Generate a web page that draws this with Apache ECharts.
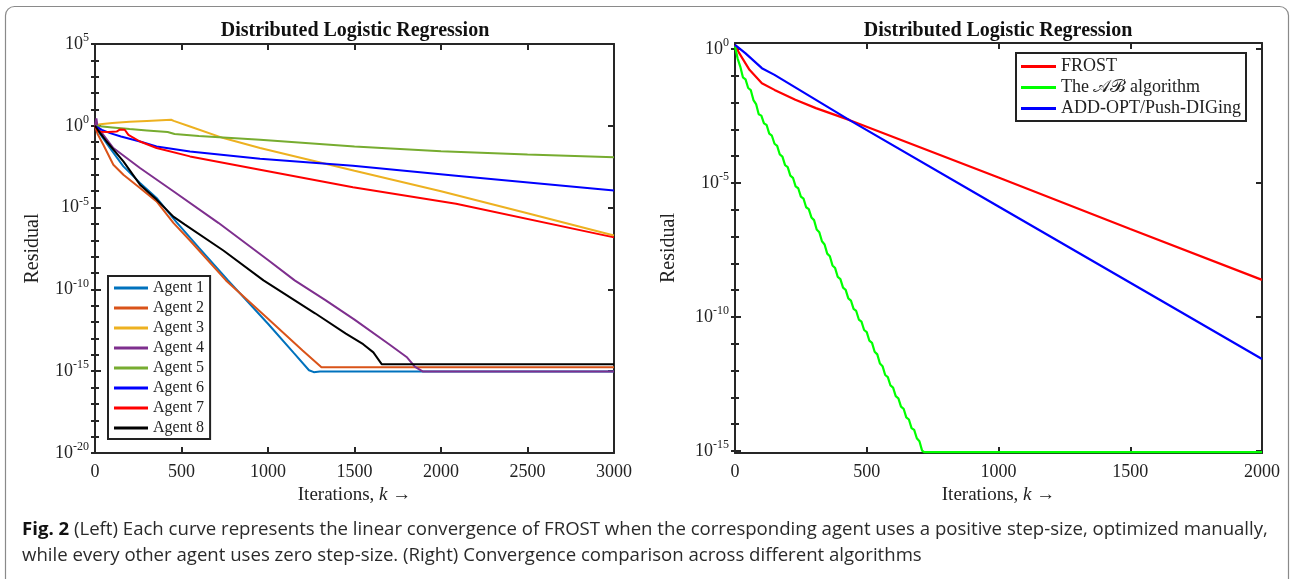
<!DOCTYPE html>
<html>
<head>
<meta charset="utf-8">
<script src="https://cdn.jsdelivr.net/npm/echarts@6/dist/echarts.min.js"></script>
<style>
  html, body { margin: 0; padding: 0; background: #fff; }
  #main { width: 1291px; height: 579px; }
</style>
</head>
<body>
<div id="main"></div>
<script>
// values are [iteration, log10(residual)]
var agent1 = [[0,0],[10,-0.2],[29,-0.5],[87,-1.36],[164,-2.48],[260,-3.49],[356,-4.41],[472,-5.9],[600,-7.45],[769,-9.45],[1000,-12.1],[1150,-13.9],[1237,-14.94],[1265,-15.06],[1300,-15.02],[3000,-15.02]];
var agent2 = [[0,0],[15,-0.5],[48,-1.16],[106,-2.38],[164,-2.99],[260,-3.8],[356,-4.62],[453,-5.93],[549,-7.01],[757,-9.45],[1000,-11.8],[1200,-13.73],[1309,-14.76],[3000,-14.76]];
var agent3 = [[0,0],[30,0.1],[100,0.17],[200,0.25],[300,0.3],[440,0.37],[455,0.3],[549,-0.04],[742,-0.75],[954,-1.36],[1500,-2.75],[2000,-4.0],[2500,-5.35],[3000,-6.7]];
var agent4 = [[0,0],[8,0.45],[14,0],[30,-0.3],[48,-0.55],[106,-1.36],[260,-2.58],[453,-4.0],[713,-5.93],[1000,-8.2],[1154,-9.45],[1334,-10.67],[1500,-11.85],[1700,-13.35],[1801,-14.13],[1850,-14.74],[1896,-15.02],[3000,-15.02]];
var agent5 = [[0,0],[100,-0.1],[200,-0.2],[300,-0.28],[420,-0.38],[460,-0.5],[600,-0.62],[954,-0.85],[1500,-1.26],[2000,-1.55],[2500,-1.76],[3000,-1.92]];
var agent6 = [[0,0],[40,-0.25],[87,-0.45],[150,-0.65],[260,-0.96],[356,-1.26],[549,-1.57],[954,-2.01],[1491,-2.44],[2087,-3.05],[3000,-3.96]];
var agent7 = [[0,0],[15,-0.3],[30,-0.36],[80,-0.38],[125,-0.35],[145,-0.22],[172,-0.24],[193,-0.55],[260,-0.96],[356,-1.36],[549,-1.87],[954,-2.68],[1491,-3.76],[2087,-4.76],[3000,-6.82]];
var agent8 = [[0,0],[10,-0.15],[30,-0.45],[67,-0.96],[164,-2.17],[260,-3.6],[356,-4.51],[453,-5.55],[520,-6.04],[742,-7.62],[974,-9.45],[1272,-11.46],[1450,-12.7],[1550,-13.35],[1609,-13.85],[1657,-14.57],[3000,-14.57]];

var frost = [[0,0.15],[16,-0.16],[55,-0.78],[102,-1.28],[150,-1.53],[229,-1.9],[307,-2.21],[433,-2.65],[1000,-4.8],[1500,-6.72],[2000,-8.62]];
var abAlg = [[0,0.10],[10,-0.36],[20,-0.66],[30,-1.06],[40,-1.14],[50,-1.46],[60,-1.54],[70,-1.91],[80,-2.06],[90,-2.44],[100,-2.49],
  [110,-2.78],[120,-2.84],[130,-3.16],[140,-3.24],[150,-3.54],[160,-3.62],[170,-3.94],[180,-4.02],[190,-4.34],[200,-4.41],
  [210,-4.73],[220,-4.81],[230,-5.13],[240,-5.20],[250,-5.51],[260,-5.59],[270,-5.91],[280,-5.98],[290,-6.29],[300,-6.39],
  [310,-6.74],[320,-6.84],[330,-7.18],[340,-7.30],[350,-7.64],[360,-7.74],[370,-8.08],[380,-8.18],[390,-8.51],[400,-8.59],
  [410,-8.91],[420,-8.99],[430,-9.31],[440,-9.39],[450,-9.70],[460,-9.78],[470,-10.10],[480,-10.18],[490,-10.49],[500,-10.57],
  [510,-10.89],[520,-10.97],[530,-11.30],[540,-11.40],[550,-11.74],[560,-11.84],[570,-12.17],[580,-12.25],[590,-12.56],[600,-12.64],
  [610,-12.96],[620,-13.04],[630,-13.35],[640,-13.43],[650,-13.75],[660,-13.83],[670,-14.15],[680,-14.22],[690,-14.53],[700,-14.64],
  [710,-14.99],[718,-15.05],[2000,-15.05]];
var addOpt = [[0,0.15],[39,-0.16],[102,-0.72],[150,-0.97],[433,-2.65],[1000,-5.88],[1615,-9.38],[2000,-11.57]];

var agentNames = ['Agent 1','Agent 2','Agent 3','Agent 4','Agent 5','Agent 6','Agent 7','Agent 8'];
var agentData = [agent1, agent2, agent3, agent4, agent5, agent6, agent7, agent8];
var agentColors = ['#0072BD','#D95319','#EDB120','#7E2F8E','#77AC30','#0000FF','#FF0000','#000000'];
var algNames = ['FROST','The \uD835\uDC9C\u212C algorithm','ADD-OPT/Push-DIGing'];
var algData = [frost, abAlg, addOpt];
var algColors = ['#FF0000','#00FF00','#0000FF'];

var leftMajor = [5, 0, -5, -10, -15, -20];
var rightMajor = [0, -5, -10, -15];
var leftMinor = [];
for (var i = 5; i >= -20; i--) leftMinor.push(i);
var rightMinor = [];
for (var j = 0; j >= -15; j--) rightMinor.push(j);

var serif = 'Liberation Serif, DejaVu Serif, serif';
var axisColor = '#262626';

var chart = echarts.init(document.getElementById('main'));

function xAxes(grid, max) {
    var common = {
        type: 'value', gridIndex: grid, min: 0, max: max, interval: 500,
        splitLine: { show: false },
        axisLine: { show: true, onZero: false, lineStyle: { color: axisColor, width: 2 } },
        axisTick: { show: true, inside: true, length: 6, lineStyle: { color: axisColor, width: 2 } }
    };
    var bottom = echarts.util.merge({
        position: 'bottom',
        name: 'Iterations, {i|k} \u2192',
        nameLocation: 'middle', nameGap: 30,
        nameTextStyle: { fontFamily: serif, fontSize: 19, color: '#222', rich: { i: { fontFamily: serif, fontStyle: 'italic', fontSize: 19, color: '#222' } } },
        axisLabel: { show: true, margin: 10, fontFamily: serif, fontSize: 18, color: '#222',
            formatter: function (v) { return String(v); } }
    }, common, true);
    var top = echarts.util.merge({ position: 'top', axisLabel: { show: false } }, common, true);
    return [bottom, top];
}

function yAxes(grid, min, max, majors, minors, nameGap) {
    var base = {
        type: 'value', gridIndex: grid, min: min, max: max,
        splitLine: { show: false }
    };
    var labelFmt = function (v) { return '{b|10}{s|' + Math.round(v) + '}'; };
    var leftMaj = echarts.util.merge({
        position: 'left',
        name: 'Residual', nameLocation: 'middle', nameGap: nameGap, nameRotate: 90,
        nameTextStyle: { fontFamily: serif, fontSize: 20, color: '#222' },
        axisLine: { show: true, onZero: false, lineStyle: { color: axisColor, width: 2 } },
        axisTick: { show: true, inside: true, length: 6, customValues: majors, lineStyle: { color: axisColor, width: 2 } },
        axisLabel: {
            show: true, margin: 6, customValues: majors, formatter: labelFmt,
            rich: {
                b: { fontFamily: serif, fontSize: 18, color: '#222' },
                s: { fontFamily: serif, fontSize: 12, color: '#222', padding: [0, 0, 12, 0] }
            }
        }
    }, base, true);
    var rightMaj = echarts.util.merge({
        position: 'right',
        axisLine: { show: true, onZero: false, lineStyle: { color: axisColor, width: 2 } },
        axisTick: { show: true, inside: true, length: 6, customValues: majors, lineStyle: { color: axisColor, width: 2 } },
        axisLabel: { show: false }
    }, base, true);
    var leftMin = echarts.util.merge({
        position: 'left',
        axisLine: { show: false },
        axisTick: { show: true, inside: true, length: 4, customValues: minors, lineStyle: { color: axisColor, width: 2 } },
        axisLabel: { show: false }
    }, base, true);
    var rightMin = echarts.util.merge({
        position: 'right',
        axisLine: { show: false },
        axisTick: { show: true, inside: true, length: 4, customValues: minors, lineStyle: { color: axisColor, width: 2 } },
        axisLabel: { show: false }
    }, base, true);
    return [leftMaj, rightMaj, leftMin, rightMin];
}

var xs = xAxes(0, 3000).concat(xAxes(1, 2000));
var ys = yAxes(0, -20, 5, leftMajor, leftMinor, 52).concat(yAxes(1, -15.08, 0.22, rightMajor, rightMinor, 56));

var series = [];
agentNames.forEach(function (n, k) {
    series.push({
        name: n, type: 'line', xAxisIndex: 0, yAxisIndex: 0,
        data: agentData[k], showSymbol: false, symbol: 'none',
        color: agentColors[k],
        lineStyle: { color: agentColors[k], width: 2 },
        animation: false
    });
});
algNames.forEach(function (n, k) {
    series.push({
        name: n, type: 'line', xAxisIndex: 2, yAxisIndex: 4,
        data: algData[k], showSymbol: false, symbol: 'none',
        color: algColors[k],
        lineStyle: { color: algColors[k], width: 2.2 },
        animation: false
    });
});

chart.setOption({
    animation: false,
    grid: [
        { left: 95, top: 44, width: 519, height: 409 },
        { left: 735, top: 43, width: 527, height: 410 }
    ],
    xAxis: xs,
    yAxis: ys,
    legend: [
        {
            data: agentNames, orient: 'vertical', left: 108, top: 276,
            icon: 'rect', itemWidth: 34, itemHeight: 3, itemGap: 0,
            padding: [2, 6, 1, 6],
            borderColor: '#222', borderWidth: 2, backgroundColor: '#fff',
            textStyle: { fontFamily: serif, fontSize: 16, color: '#222', lineHeight: 20 },
            selectedMode: false
        },
        {
            data: algNames, orient: 'vertical', left: 1016, top: 53,
            icon: 'rect', itemWidth: 35, itemHeight: 3, itemGap: 0,
            padding: [3, 5, 2, 5],
            borderColor: '#222', borderWidth: 2, backgroundColor: '#fff',
            textStyle: { fontFamily: serif, fontSize: 18, color: '#222', lineHeight: 21 },
            selectedMode: false
        }
    ],
    graphic: [
        {
            type: 'rect', z: -10, silent: true,
            shape: { x: 5.5, y: 6.5, width: 1283, height: 620, r: 9 },
            style: { fill: 'none', stroke: '#8a8a8a', lineWidth: 1.2 }
        },
        {
            type: 'text', x: 355, y: 31,
            style: { text: 'Distributed Logistic Regression', fontFamily: serif, fontWeight: 'bold', fontSize: 20, fill: '#111', align: 'center', verticalAlign: 'middle' }
        },
        {
            type: 'text', x: 998, y: 31,
            style: { text: 'Distributed Logistic Regression', fontFamily: serif, fontWeight: 'bold', fontSize: 20, fill: '#111', align: 'center', verticalAlign: 'middle' }
        },
        {
            type: 'text', x: 22, y: 530,
            style: {
                text: '{b|Fig. 2} (Left) Each curve represents the linear convergence of FROST when the corresponding agent uses a positive step-size, optimized manually,',
                fontFamily: 'Open Sans', fontSize: 18.6, fill: '#2a2a2a', verticalAlign: 'middle',
                rich: { b: { fontFamily: 'Open Sans', fontWeight: 'bold', fontSize: 18.6, fill: '#111' } }
            }
        },
        {
            type: 'text', x: 22, y: 556,
            style: {
                text: 'while every other agent uses zero step-size. (Right) Convergence comparison across different algorithms',
                fontFamily: 'Open Sans', fontSize: 18.6, fill: '#2a2a2a', verticalAlign: 'middle'
            }
        }
    ],
    series: series
});
</script>
</body>
</html>
